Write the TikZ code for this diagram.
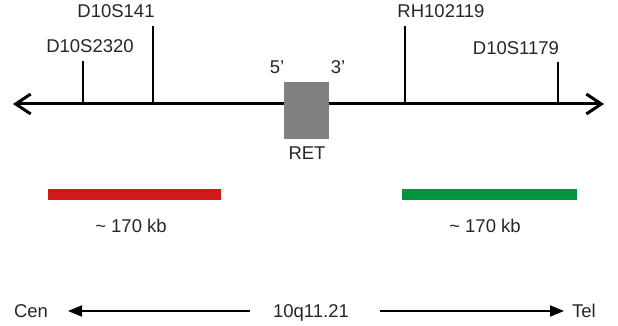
\documentclass[tikz,border=0pt]{standalone}
\usepackage{fontspec}
\setmainfont{Liberation Sans}
\usetikzlibrary{arrows.meta}
\definecolor{retgray}{HTML}{808080}
\definecolor{barred}{HTML}{D01A1A}
\definecolor{bargreen}{HTML}{00943F}
\tikzset{
  lbl/.style={anchor=base, inner sep=0pt, font=\fontsize{18.5}{20}\selectfont, text=black!85},
  tick/.style={line width=2pt, black},
  chrom/.style={line width=3pt, black, {Straight Barb[length=15pt,width=20pt]}-{Straight Barb[length=15pt,width=20pt]}},
  probe/.style={line width=11pt},
  dirarrow/.style={line width=2pt, -{Triangle[length=14pt,width=11pt]}}
}
\begin{document}
\begin{tikzpicture}[x=1pt,y=-1pt]
\useasboundingbox (0,0) rectangle (618,326);
% main chromosome line
\coordinate (L) at (13,104);
\coordinate (R) at (604,104);
\draw[chrom] (L) -- (R);
% marker ticks
\coordinate (b1) at (83,104);  \coordinate (t1) at (83,61);
\coordinate (b2) at (153,104); \coordinate (t2) at (153,26);
\coordinate (b3) at (405,104); \coordinate (t3) at (405,26);
\coordinate (b4) at (558,104); \coordinate (t4) at (558,62);
\draw[tick] (b1) -- (t1);
\draw[tick] (b2) -- (t2);
\draw[tick] (b3) -- (t3);
\draw[tick] (b4) -- (t4);
\node[lbl] (m1) at (90,53) {D10S2320};
\node[lbl] (m2) at (116,18) {D10S141};
\node[lbl] (m3) at (441,18) {RH102119};
\node[lbl] (m4) at (516,55) {D10S1179};
% RET gene
\node[fill=retgray, draw=none, minimum width=45pt, minimum height=57pt, inner sep=0pt] (ret) at (306.5,110.5) {};
\node[lbl] (five) at (277,74) {5'};
\node[lbl] (three) at (338,74) {3'};
\node[lbl] (retl) at (307,159) {RET};
% probes
\coordinate (r1) at (48,194.5); \coordinate (r2) at (221,194.5);
\coordinate (g1) at (402,194.5); \coordinate (g2) at (577,194.5);
\draw[probe, barred] (r1) -- (r2);
\draw[probe, bargreen] (g1) -- (g2);
\node[lbl] (kb1) at (131,232) {\char`~\ 170 kb};
\node[lbl] (kb2) at (485,232) {\char`~\ 170 kb};
% orientation
\node[lbl] (cen) at (31,317) {Cen};
\node[lbl] (band) at (311,317) {10q11.21};
\node[lbl] (tel) at (584,317) {Tel};
\coordinate (a1) at (250,311);
\coordinate (a2) at (68,311);
\coordinate (a3) at (380,311);
\coordinate (a4) at (564,311);
\draw[dirarrow] (a1) -- (a2);
\draw[dirarrow] (a3) -- (a4);
\end{tikzpicture}
\end{document}
